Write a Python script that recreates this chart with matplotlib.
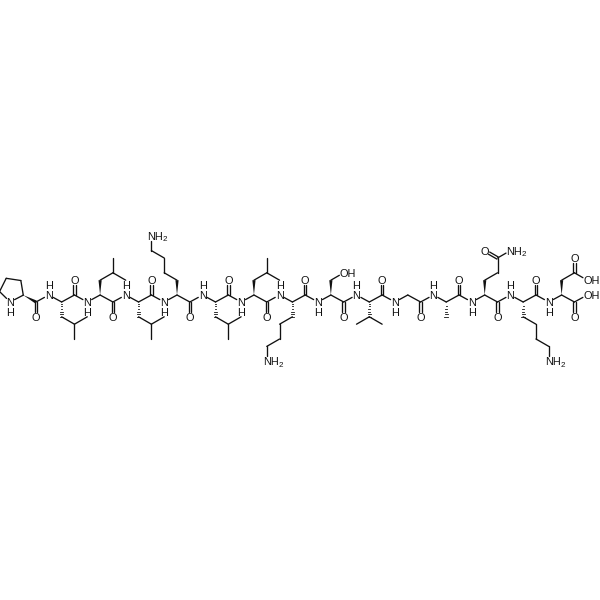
import numpy as np
import matplotlib
matplotlib.use("Agg")
import matplotlib.pyplot as plt

# peptide sequence, N to C terminus
residues = ["Pro", "Leu", "Leu", "Leu", "Lys", "Leu", "Leu", "Lys", "Ser", "Val",
            "Gly", "Ala", "Gln", "Lys", "Asp"]

# lattice steps, in (DX, DY) units. +y means away from the backbone
V = (0, 2)
R = (1, 1)
L = (-1, 1)
BR = (1, -1)   # right and back towards the backbone

# which way each Lys chain bends
lys_turn = {4: L, 7: L, 13: R}

X0, Y_LOW, Y_HIGH = 36.0, 302.0, 295.0
DX = 12.82
DY = 7.4
INK = "#111111"
LW = 0.95
FS = 7.9
TRIM = 5.0

fig = plt.figure(figsize=(6, 6), dpi=100)
ax = fig.add_axes([0, 0, 1, 1])
ax.set_xlim(0, 600)
ax.set_ylim(600, 0)
ax.axis("off")


def bond(a, b, trim_a=0, trim_b=0):
    a, b = np.array(a, float), np.array(b, float)
    u = (b - a) / np.linalg.norm(b - a)
    a, b = a + u * trim_a, b - u * trim_b
    ax.plot([a[0], b[0]], [a[1], b[1]], color=INK, lw=LW, solid_capstyle="round")


def double(a, b, off=2.5):
    a, b = np.array(a, float), np.array(b, float)
    u = (b - a) / np.linalg.norm(b - a)
    n = np.array([-u[1], u[0]])
    bond(a + n * off / 2, b + n * off / 2, 0, TRIM)
    bond(a - n * off / 2, b - n * off / 2, 0, TRIM)


def wedge(a, b, w=3.2):
    a, b = np.array(a, float), np.array(b, float)
    u = (b - a) / np.linalg.norm(b - a)
    n = np.array([-u[1], u[0]])
    ax.fill(*zip(a, b + n * w / 2, b - n * w / 2), color=INK, lw=0)


def hashed(a, b, w=3.6, count=6):
    a, b = np.array(a, float), np.array(b, float)
    n = np.array([1.0, 0.0])
    for t in np.linspace(0.12, 1, count):
        p = a + (b - a) * t
        h = n * w * t / 2
        ax.plot([p[0] - h[0], p[0] + h[0]], [p[1], p[1]], color=INK, lw=0.6)


def label(p, s, dy=0):
    ax.text(p[0], p[1] + dy, s, ha="center", va="center_baseline", fontsize=FS,
            family="Liberation Sans", color=INK)


def hydroxyl(p):
    ax.text(p[0] - 4.0, p[1], "OH", ha="left", va="center_baseline", fontsize=FS,
            family="Liberation Sans", color=INK)


def amine(p):
    ax.text(p[0] - 4.0, p[1], "NH", ha="left", va="center_baseline", fontsize=FS,
            family="Liberation Sans", color=INK)
    ax.text(p[0] + 11.6, p[1] + 3.0, "2", ha="left", va="center_baseline", fontsize=5.8,
            family="Liberation Sans", color=INK)


def pos(k):
    return (X0 + k * DX, Y_LOW if k % 2 == 0 else Y_HIGH)


def walk(p, steps, sign):
    # follow lattice steps from p, sign is +1 for chains going down the page
    pts = [p]
    for sx, sy in steps:
        q = pts[-1]
        pts.append((q[0] + sx * DX, q[1] + sign * sy * DY))
    return pts


def chain(pts, trim_end=0):
    for i in range(1, len(pts) - 1):
        bond(pts[i], pts[i + 1], 0, trim_end if i == len(pts) - 2 else 0)


def stereo(pts, sign):
    # first side chain bond: bold going up, hashed going down
    if sign < 0:
        wedge(pts[0], pts[1])
    else:
        hashed(pts[0], pts[1])


def side_chain(idx, name, ca):
    sign = 1 if ca[1] == Y_LOW else -1
    if name == "Gly":
        return
    if name == "Leu":
        pts = walk(ca, [V, R], sign)
        chain(pts)
        bond(pts[2], walk(pts[2], [BR], sign)[1])
        bond(pts[2], walk(pts[2], [V], sign)[1])
    elif name == "Lys":
        t = lys_turn[idx]
        pts = walk(ca, [V, t, V, t, V], sign)
        chain(pts, TRIM)
        amine(pts[-1])
    elif name == "Ser":
        pts = walk(ca, [V, R], sign)
        chain(pts, TRIM)
        hydroxyl(pts[-1])
    elif name == "Val":
        pts = walk(ca, [V], sign)
        bond(pts[1], walk(pts[1], [L], sign)[1])
        bond(pts[1], walk(pts[1], [R], sign)[1])
    elif name == "Ala":
        pts = walk(ca, [V], sign)
    elif name == "Gln":
        pts = walk(ca, [V, R, V], sign)
        chain(pts)
        o = walk(pts[3], [L], sign)[1]
        n = walk(pts[3], [R], sign)[1]
        double(pts[3], o)
        label(o, "O")
        bond(pts[3], n, 0, TRIM)
        amine(n)
    elif name == "Asp":
        pts = walk(ca, [V, R], sign)
        chain(pts)
        o = walk(pts[2], [V], sign)[1]
        oh = walk(pts[2], [BR], sign)[1]
        double(pts[2], o)
        label(o, "O")
        bond(pts[2], oh, 0, TRIM)
        hydroxyl(oh)
    stereo(pts, sign)


# backbone: carbonyl C, amide N, alpha C, carbonyl C ...
last = 3 * (len(residues) - 1)
for k in range(last + 1):
    p = pos(k)
    if k % 3 == 0:
        sign = 1 if p[1] == Y_LOW else -1
        o = (p[0], p[1] + sign * 2 * DY)
        double(p, o)
        label(o, "O")
    elif k % 3 == 1:
        label(p, "N")
        label(p, "H", dy=-10 if p[1] == Y_HIGH else 10)
    else:
        side_chain((k + 1) // 3, residues[(k + 1) // 3], p)
    if k < last:
        bond(p, pos(k + 1), TRIM if k % 3 == 1 else 0, TRIM if k % 3 == 0 else 0)

# C terminal acid
end = pos(last)
oh = (end[0] + DX, Y_HIGH)
bond(end, oh, 0, TRIM)
hydroxyl(oh)

# proline ring, a regular pentagon sitting left of the first carbonyl
ring_c = np.array([12.0, 289.5])
ring_r = 12.6
ring = [ring_c + ring_r * np.array([np.cos(np.radians(a)), np.sin(np.radians(a))])
        for a in [26.6, -45.4, -117.4, -189.4, -261.4]]
for i in range(4):
    bond(ring[i], ring[i + 1], 0, TRIM if i == 3 else 0)
bond(ring[4], ring[0], TRIM, 0)
label(ring[4], "N")
label(ring[4], "H", dy=10)
wedge(ring[0], pos(0))

fig.savefig("out.png", dpi=100)
